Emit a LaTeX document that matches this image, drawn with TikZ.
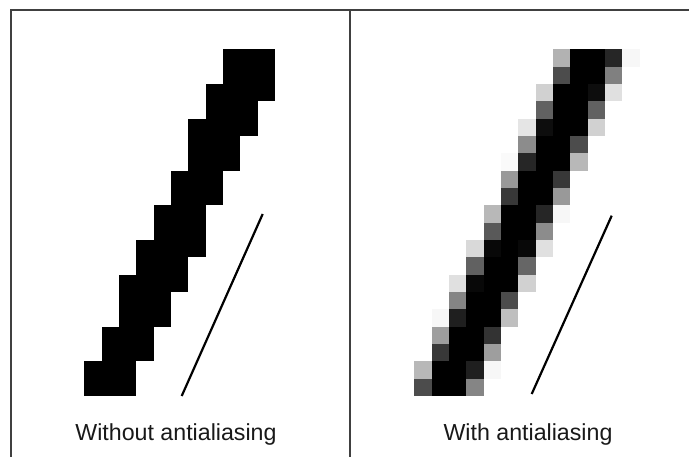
\documentclass[tikz,border=0pt]{standalone}
\usepackage{fontspec}
\setmainfont{Liberation Sans}
\begin{document}
\begin{tikzpicture}[x=1pt,y=-1pt,
  frameline/.style={draw=black!75,line width=2pt},
  slant/.style={draw=black,line width=2.2pt},
  caption/.style={anchor=base,inner sep=0pt,text=black!90,font=\fontsize{23.2}{28}\selectfont}]
\useasboundingbox (0,0) rectangle (689,457);
\fill[white] (0,0) rectangle (689,457);
% frame
\draw[frameline] (10.8,457) -- (10.8,10) -- (689,10);
\draw[frameline] (349.5,10) -- (349.5,457);
% left: aliased pixels (row/first col/last col+1)
\foreach \r/\a/\b in {0/8/11,1/8/11,2/7/11,3/7/10,4/6/10,5/6/9,6/6/9,7/5/8,8/5/8,9/4/7,10/4/7,11/3/7,12/3/6,13/2/6,14/2/5,15/2/5,16/1/4,17/1/4,18/0/3,19/0/3}
  \fill[black] (84.3+\a*17.33,49.3+\r*17.33) rectangle (84.3+\b*17.33,49.3+\r*17.33+17.45);
% right: antialiased pixels (row/col/blackness)
\foreach \r/\c/\k in {
 0/8/30,0/9/100,0/10/100,0/11/85,0/12/3,
 1/8/70,1/9/100,1/10/100,1/11/50,
 2/7/18,2/8/100,2/9/100,2/10/95,2/11/12,
 3/7/62,3/8/100,3/9/100,3/10/62,
 4/6/10,4/7/95,4/8/100,4/9/100,4/10/18,
 5/6/45,5/7/100,5/8/100,5/9/70,
 6/5/2,6/6/85,6/7/100,6/8/100,6/9/28,
 7/5/40,7/6/100,7/7/100,7/8/78,
 8/5/78,8/6/100,8/7/100,8/8/40,
 9/4/28,9/5/100,9/6/100,9/7/85,9/8/3,
 10/4/65,10/5/100,10/6/100,10/7/45,
 11/3/15,11/4/97,11/5/100,11/6/97,11/7/12,
 12/3/62,12/4/100,12/5/100,12/6/60,
 13/2/12,13/3/97,13/4/100,13/5/100,13/6/18,
 14/2/48,14/3/100,14/4/100,14/5/70,
 15/1/3,15/2/88,15/3/100,15/4/100,15/5/25,
 16/1/38,16/2/100,16/3/100,16/4/80,
 17/1/78,17/2/100,17/3/100,17/4/38,
 18/0/28,18/1/100,18/2/100,18/3/88,18/4/3,
 19/0/70,19/1/100,19/2/100,19/3/48}
  \fill[black!\k] (414.3+\c*17.33,49.3+\r*17.33) rectangle ++(17.45,17.45);
% ideal lines
\coordinate (l1a) at (181.7,396);
\coordinate (l1b) at (262.7,214);
\coordinate (l2a) at (531.7,394);
\coordinate (l2b) at (611.7,215.7);
\draw[slant] (l1a) -- (l1b);
\draw[slant] (l2a) -- (l2b);
% captions
\node[caption] (capL) at (176,440) {Without antialiasing};
\node[caption] (capR) at (528,440) {With antialiasing};
\end{tikzpicture}
\end{document}
